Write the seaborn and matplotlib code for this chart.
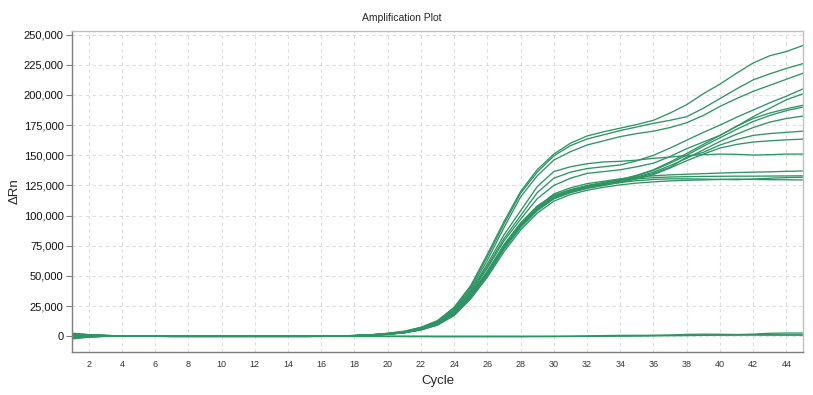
import pandas as pd
import matplotlib
matplotlib.use("Agg")
import matplotlib.pyplot as plt
import seaborn as sns
from matplotlib.ticker import FuncFormatter

# cycle numbers on the x axis
cycles = list(range(1, 46))

# delta Rn per well (cycles 1..45)
well_a = [2600, 1400, 700, 300, 100, 0, -100, -100, -100, -100, -100, -100, -100, -100, -100, -50,
          300, 700, 1300, 2500, 4200, 7500, 13000, 24000, 42000, 68000, 95000, 120000, 138000,
          151000, 160000, 166000, 169500, 172500, 175500, 179000, 185000, 192000, 201000, 209000,
          218000, 226500, 232500, 236000, 241000]
well_b = [1800, 1200, 700, 350, 150, 0, -50, -50, -50, -50, -50, -50, -50, -50, -50, 0,
          280, 650, 1250, 2400, 4000, 7200, 12500, 23500, 41000, 66000, 93000, 118500, 136000,
          149500, 158000, 163500, 167000, 170500, 173500, 176500, 179000, 182000, 189000, 197000,
          205000, 212500, 217500, 222000, 226000]
well_c = [-1500, -300, 200, 300, 200, 100, 0, 0, 0, 0, 0, 0, 0, 0, 0, 50,
          260, 620, 1200, 2300, 3900, 7000, 12000, 22500, 39500, 63000, 90000, 115500, 133000,
          146000, 153000, 158500, 162000, 165500, 168000, 170000, 173000, 177000, 183000, 190500,
          197000, 203000, 208000, 213000, 218000]
well_d = [1200, 900, 600, 350, 200, 50, 0, 0, 0, 0, 0, 0, 0, 0, 0, 50,
          240, 580, 1100, 2000, 3500, 6400, 11200, 21000, 37000, 58000, 81000, 100000, 119000,
          131000, 136000, 139000, 140500, 142000, 145500, 150000, 156000, 162500, 169000, 175000,
          181500, 187500, 193500, 199000, 205000]
well_e = [-2200, -700, -100, 100, 100, 50, 0, 0, 0, 0, 0, 0, 0, 0, 0, 50,
          230, 560, 1050, 2000, 3400, 6200, 11000, 20500, 36000, 56500, 79000, 97000, 114000,
          125000, 131000, 135000, 136500, 138000, 140500, 143500, 149000, 155500, 161000, 166500,
          174000, 182000, 189000, 196000, 201000]
well_f = [500, 700, 500, 300, 150, 0, -50, -50, -50, -50, -50, -50, -50, -50, -50, 0,
          220, 530, 1000, 1900, 3300, 6000, 10500, 19500, 35000, 54000, 76000, 94000, 108000,
          117000, 121500, 125000, 127500, 130000, 133500, 138000, 144500, 151500, 159000, 166500,
          174000, 180500, 185000, 188500, 191500]
well_g = [2200, 1300, 700, 350, 150, 0, -100, -100, -100, -100, -100, -100, -100, -100, -100, -50,
          210, 520, 980, 1850, 3250, 5900, 10300, 19000, 34000, 53000, 75000, 93000, 106500,
          116000, 121000, 124500, 127000, 129500, 133000, 137500, 143500, 150000, 157500, 164500,
          171500, 178000, 183000, 187000, 190000]
well_h = [-800, 0, 300, 300, 150, 50, 0, 0, 0, 0, 0, 0, 0, 0, 0, 50,
          200, 510, 960, 1800, 3200, 5800, 10100, 18800, 33500, 52500, 74500, 92500, 106000,
          115500, 120500, 124000, 126500, 129000, 132000, 136000, 141500, 147500, 154500, 161500,
          167500, 173000, 177500, 180500, 182500]
well_i = [1500, 1000, 600, 300, 150, 0, -50, -50, -50, -50, -50, -50, -50, -50, -50, 0,
          200, 500, 950, 1800, 3150, 5700, 10000, 18500, 33000, 52000, 73500, 92000, 105500,
          115000, 120000, 123500, 126000, 128500, 131500, 135000, 140000, 148500, 152500, 158500,
          163000, 166500, 168000, 169000, 170000]
well_j = [-1800, -500, 0, 150, 100, 50, 0, 0, 0, 0, 0, 0, 0, 0, 0, 50,
          190, 490, 930, 1750, 3100, 5600, 9800, 18200, 32500, 51500, 73000, 91000, 104500,
          114000, 119000, 122500, 125000, 127500, 130500, 134000, 139500, 145500, 151000, 156000,
          159000, 161000, 162000, 162800, 163400]
well_k = [800, 800, 500, 300, 150, 0, -50, -50, -50, -50, -50, -50, -50, -50, -50, 0,
          250, 600, 1100, 2100, 3600, 6600, 11500, 21500, 38000, 60000, 84000, 104000, 124000,
          136500, 140500, 143000, 144500, 145000, 146000, 147500, 148500, 149800, 150500, 151000,
          150800, 150200, 150500, 151000, 151000]
well_l = [-1000, -200, 200, 250, 150, 50, 0, 0, 0, 0, 0, 0, 0, 0, 0, 50,
          190, 480, 920, 1750, 3100, 5600, 9900, 18500, 33500, 53000, 75000, 93000, 107000,
          118000, 123000, 126500, 128500, 130500, 132000, 133000, 133800, 134300, 134800, 135300,
          135700, 136000, 136300, 136700, 137000]
well_m = [2000, 1300, 700, 350, 150, 0, -100, -100, -100, -100, -100, -100, -100, -100, -100, -50,
          180, 470, 900, 1700, 3000, 5500, 9700, 18000, 32500, 51500, 73500, 91500, 105500,
          116000, 121000, 124500, 127000, 129000, 130500, 131500, 132000, 132300, 132500, 132600,
          132700, 132700, 132800, 132900, 133000]
well_n = [0, 400, 400, 250, 100, 0, 0, 0, 0, 0, 0, 0, 0, 0, 0, 50,
          170, 460, 880, 1650, 2950, 5400, 9500, 17600, 32000, 50500, 72000, 90000, 104000,
          114000, 119500, 123000, 125500, 127500, 129000, 130000, 130500, 130500, 130300, 130000,
          129800, 130300, 131000, 131500, 131800]
well_o = [-1300, -400, 100, 200, 100, 50, 0, 0, 0, 0, 0, 0, 0, 0, 0, 50,
          160, 450, 860, 1600, 2900, 5300, 9300, 17200, 31000, 49000, 70000, 88000, 102000,
          112000, 117500, 121000, 123500, 125500, 127000, 128000, 128800, 129300, 129600, 130000,
          130300, 130000, 129800, 129700, 129600]
# no-template controls, stay flat near zero
ntc_1 = [1000, 700, 400, 200, 100, 0, -100, -100, -100, -100, -100, -100, -100, -100, -100, -100,
         -100, -150, -200, -200, -250, -300, -300, -300, -300, -300, -300, -300, -250,
         -200, -100, 200, 600, 800, 800, 900, 900, 1000, 1000, 1000, 1000, 1000, 1000, 1000, 1000]
ntc_2 = [-600, -200, 0, 100, 50, 0, 0, 0, 0, 0, 0, 0, 0, 0, 0, 0,
         0, 0, 0, 0, 0, 0, -100, -100, -100, -100, -100, -100, -100,
         -100, 0, 100, 200, 300, 400, 600, 1000, 1600, 1800, 1700, 1500, 1400, 1300, 1200, 1200]
ntc_3 = [300, 400, 300, 200, 100, 0, 0, 0, 0, 0, 0, 0, 0, 0, 0, 0,
         0, 0, 0, 0, 0, 0, 0, 0, 0, 0, 0, 0, 0,
         0, 0, 0, 100, 200, 300, 400, 500, 600, 800, 1000, 1300, 1800, 2500, 2700, 2700]

wells = {
    "A1": well_a, "A2": well_b, "A3": well_c, "A4": well_d, "A5": well_e,
    "A6": well_f, "A7": well_g, "A8": well_h, "A9": well_i, "A10": well_j,
    "A11": well_k, "A12": well_l, "B1": well_m, "B2": well_n, "B3": well_o,
    "NTC1": ntc_1, "NTC2": ntc_2, "NTC3": ntc_3,
}

y_ticks = list(range(0, 250001, 25000))
x_ticks = list(range(2, 45, 2))


def build_frame():
    rows = []
    for well, vals in wells.items():
        for c, v in zip(cycles, vals):
            rows.append({"well": well, "cycle": c, "drn": v})
    return pd.DataFrame(rows)


def main():
    sns.set_style("white")
    plt.rcParams["font.family"] = ["Liberation Sans", "DejaVu Sans"]

    df = build_frame()

    fig = plt.figure(figsize=(8.13, 3.95), dpi=100)
    ax = fig.add_axes([72 / 813, 43 / 395, 731 / 813, 321 / 395])

    sns.lineplot(data=df, x="cycle", y="drn", units="well", estimator=None,
                 color="#2e9464", lw=0.95, ax=ax, legend=False)

    ax.set_xlim(1, 45)
    ax.set_ylim(-13000, 253000)
    ax.set_xticks(x_ticks)
    ax.set_yticks(y_ticks)
    ax.yaxis.set_major_formatter(FuncFormatter(lambda v, p: f"{int(v):,}"))

    ax.grid(True, color="#dedede", linestyle=(0, (3, 3)), lw=0.8)
    ax.set_axisbelow(True)
    for side in ["left", "bottom"]:
        ax.spines[side].set_color("#7f7f7f")
        ax.spines[side].set_linewidth(1.0)
    for side in ["top", "right"]:
        ax.spines[side].set_color("#c0c0c0")
        ax.spines[side].set_linewidth(1.0)

    ax.tick_params(axis="y", labelsize=8, length=4, width=0.8, color="#7f7f7f",
                   pad=2, labelcolor="#111111", left=True)
    ax.tick_params(axis="x", labelsize=6.5, length=0, pad=6, labelcolor="#333333")

    ax.set_xlabel("Cycle", fontsize=9.5)
    ax.set_ylabel("ΔRn", fontsize=9.5)
    ax.xaxis.set_label_coords(0.5, -0.072)
    ax.yaxis.set_label_coords(-0.07, 0.5)

    fig.text(0.494, 1 - 18 / 395, "Amplification Plot", ha="center", va="center", fontsize=7.5)

    fig.savefig("out.png", dpi=100)
    plt.close(fig)


if __name__ == "__main__":
    main()
